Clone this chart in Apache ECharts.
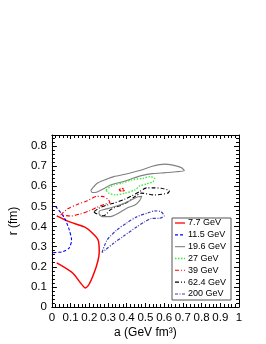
<!DOCTYPE html>
<html><head><meta charset="utf-8">
<script src="https://cdn.jsdelivr.net/npm/echarts@6/dist/echarts.min.js"></script>
<style>html,body{margin:0;padding:0;background:#fff}#c{width:266px;height:344px}</style>
</head><body><div id="c"></div>
<script>
// tick labels
const xTicks = ['0','0.1','0.2','0.3','0.4','0.5','0.6','0.7','0.8','0.9','1'];
const yTicks = ['0','0.1','0.2','0.3','0.4','0.5','0.6','0.7','0.8'];
const names = ['7.7 GeV','11.5 GeV','19.6 GeV','27 GeV','39 GeV','62.4 GeV','200 GeV'];

// contour points [a, r]
const c7_7 = [[0.026,0.453],[0.095,0.423],[0.174,0.398],[0.216,0.368],[0.247,0.333],[0.253,0.274],[0.179,0.095],[0.111,0.169],[0.026,0.219]];
const c7_7b = [[0.358,0.582],[0.374,0.590],[0.389,0.582],[0.374,0.575],[0.358,0.582]];
const c11_5 = [[0.02,0.50],[0.067,0.443],[0.093,0.383],[0.105,0.333],[0.093,0.294],[0.058,0.275],[0.021,0.271],[0.005,0.27]];
const c19_6 = [[0.208,0.580],[0.242,0.615],[0.284,0.632],[0.33,0.648],[0.409,0.664],[0.479,0.681],[0.532,0.698],[0.602,0.71],[0.689,0.694],[0.708,0.678],[0.663,0.672],[0.584,0.666],[0.537,0.663],[0.479,0.653],[0.437,0.641],[0.384,0.624],[0.321,0.609],[0.284,0.592],[0.242,0.572],[0.216,0.569],[0.208,0.580]];
const c19_6b = [[0.251,0.465],[0.268,0.449],[0.312,0.449],[0.356,0.466],[0.40,0.491],[0.444,0.507],[0.47,0.53],[0.48,0.55],[0.46,0.548],[0.42,0.53],[0.37,0.51],[0.32,0.495],[0.28,0.485],[0.255,0.478],[0.251,0.465]];
const c27 = [[0.289,0.582],[0.33,0.607],[0.374,0.615],[0.426,0.632],[0.488,0.64],[0.523,0.648],[0.549,0.640],[0.541,0.623],[0.505,0.612],[0.47,0.602],[0.444,0.582],[0.391,0.566],[0.338,0.557],[0.304,0.566],[0.289,0.582]];
const c39 = [[0.047,0.458],[0.084,0.488],[0.137,0.51],[0.19,0.528],[0.24,0.55],[0.27,0.55],[0.30,0.535],[0.31,0.52],[0.28,0.51],[0.24,0.495],[0.2,0.478],[0.15,0.462],[0.1,0.452],[0.047,0.458]];
const c62_4 = [[0.225,0.474],[0.251,0.491],[0.295,0.507],[0.33,0.516],[0.389,0.536],[0.426,0.552],[0.47,0.574],[0.505,0.592],[0.549,0.592],[0.584,0.59],[0.628,0.577],[0.619,0.566],[0.549,0.557],[0.479,0.566],[0.444,0.549],[0.409,0.524],[0.374,0.507],[0.337,0.495],[0.312,0.483],[0.295,0.466],[0.277,0.453],[0.258,0.458],[0.233,0.466],[0.225,0.474]];
const c200 = [[0.268,0.271],[0.295,0.333],[0.347,0.383],[0.4,0.418],[0.453,0.448],[0.514,0.468],[0.549,0.478],[0.584,0.473],[0.6,0.453],[0.574,0.441],[0.532,0.44],[0.495,0.423],[0.453,0.398],[0.384,0.353],[0.33,0.317],[0.286,0.284],[0.268,0.271]];

const FONT = 'Liberation Sans, Arial, sans-serif';
const styles = [
  {color:'#ff0000', type:'solid', width:1.5},
  {color:'#0000ff', type:[3,2], width:1.1},
  {color:'#808080', type:'solid', width:1.1},
  {color:'#33ee33', type:[1.5,1.5], width:1.3},
  {color:'#ff0000', type:[4,2,1,2], width:1.1},
  {color:'#000000', type:[4,2,1,2], width:1.1},
  {color:'#3a3ac0', type:[3,1.5,1,1.5], width:1.2}
];
function mk(i, data, override) {
  const s = Object.assign({}, styles[i], override||{});
  return {type:'line', name:names[i], data:data, showSymbol:false, symbol:'none', smooth:0.25,
    lineStyle:{color:s.color, width:s.width, type:s.type}, itemStyle:{color:s.color}, silent:true, animation:false};
}
// legend drawn as graphic
const legendChildren = [{type:'rect', shape:{x:172, y:218, width:59, height:82},
  style:{fill:'#fff', stroke:'#555', lineWidth:1}}];
names.forEach((n,i)=>{
  const y = 223 + i*11.83;
  const s = styles[i];
  legendChildren.push({type:'line', shape:{x1:175, y1:y, x2:185, y2:y},
    style:{stroke:s.color, lineWidth:Math.min(s.width,1.3), lineDash: s.type==='solid'?null:s.type}});
  legendChildren.push({type:'text', style:{text:n, x:188, y:y, font:'9px '+FONT, fill:'#000', verticalAlign:'middle', textAlign:'left'}});
});

const axisCommon = {
  min:0, interval:0.1, splitLine:{show:false},
  axisLine:{show:true, onZero:false, lineStyle:{color:'#000', width:1}},
  axisTick:{show:true, inside:true, length:5, lineStyle:{color:'#000'}},
  minorTick:{show:true, splitNumber:5, length:3, lineStyle:{color:'#000'}}
};
const chart = echarts.init(document.getElementById('c'), null, {renderer:'canvas'});
chart.setOption({
  animation:false,
  backgroundColor:'#fff',
  grid:{left:49, top:135, width:190, height:172, containLabel:false},
  xAxis:[
    Object.assign({}, axisCommon, {type:'value', position:'bottom', max:1,
      axisTick:Object.assign({}, axisCommon.axisTick, {length:4}),
      axisLabel:{fontFamily:FONT, fontSize:11.5, color:'#000', margin:5,
        formatter:(v)=>xTicks[Math.round(v*10)]},
      name:'a (GeV fm³)', nameLocation:'middle', nameGap:20,
      nameTextStyle:{fontFamily:FONT, fontSize:12, color:'#000'}}),
    Object.assign({}, axisCommon, {type:'value', position:'top', max:1,
      axisTick:Object.assign({}, axisCommon.axisTick, {length:4}),
      axisLabel:{show:false}})
  ],
  yAxis:[
    Object.assign({}, axisCommon, {type:'value', position:'left', max:0.855,
      axisLabel:{fontFamily:FONT, fontSize:11.5, color:'#000', margin:5, showMaxLabel:false,
        formatter:(v)=>{const i=Math.round(v*10); return Math.abs(v*10-i)<1e-6 && yTicks[i]!==undefined ? yTicks[i] : '';}},
      name:'r (fm)', nameLocation:'middle', nameGap:25, nameRotate:90,
      nameTextStyle:{fontFamily:FONT, fontSize:12, color:'#000'}}),
    Object.assign({}, axisCommon, {type:'value', position:'right', max:0.855,
      axisLabel:{show:false}})
  ],
  graphic:[{type:'group', z:100, children:legendChildren}],
  series:[
    mk(0, c7_7), mk(1, c11_5), mk(2, c19_6), mk(3, c27), mk(4, c39), mk(5, c62_4), mk(6, c200),
    mk(0, c7_7b, {type:[2,1.5], width:1.3}),
    mk(2, c19_6b)
  ]
});
</script></body></html>
